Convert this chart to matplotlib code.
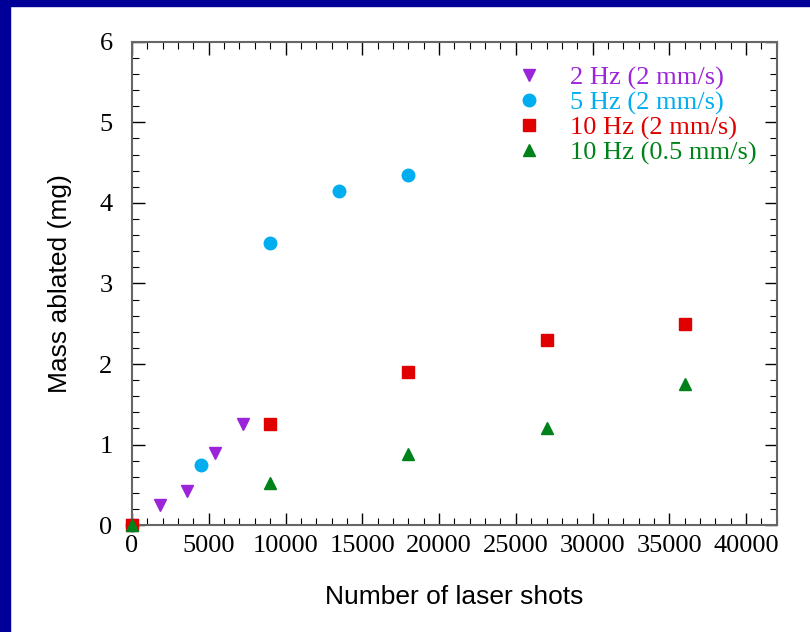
import numpy as np
import matplotlib
matplotlib.use("Agg")
import matplotlib.pyplot as plt
from matplotlib.patches import Rectangle
from matplotlib.ticker import MultipleLocator

# data
shots_2hz = [0, 1800, 3600, 5400, 7200]
mass_2hz = [0, 0.25, 0.42, 0.90, 1.26]

shots_5hz = [0, 4500, 9000, 13500, 18000]
mass_5hz = [0, 0.75, 3.50, 4.15, 4.35]

shots_10hz = [0, 9000, 18000, 27000, 36000]
mass_10hz = [0, 1.25, 1.90, 2.30, 2.50]

shots_10hz_slow = [0, 9000, 18000, 27000, 36000]
mass_10hz_slow = [0, 0.52, 0.88, 1.20, 1.75]

labels = ["2 Hz (2 mm/s)", "5 Hz (2 mm/s)", "10 Hz (2 mm/s)", "10 Hz (0.5 mm/s)"]
colors = ["#9B26D9", "#00AEEF", "#E00000", "#00821A"]
markers = ["v", "o", "s", "^"]

fig = plt.figure(figsize=(8.1, 6.32), dpi=100)
# dark blue slide border (top and left)
fig.patches.append(Rectangle((0, 1 - 6/632), 1, 6/632, transform=fig.transFigure,
                             color="#000099", zorder=0))
fig.patches.append(Rectangle((0, 0), 10/810, 1, transform=fig.transFigure,
                             color="#000099", zorder=0))

ax = fig.add_axes([0.163, 0.169, 0.796, 0.765])

series = [(shots_2hz, mass_2hz), (shots_5hz, mass_5hz),
          (shots_10hz, mass_10hz), (shots_10hz_slow, mass_10hz_slow)]
for (x, y), lab, c, m in zip(series, labels, colors, markers):
    ax.plot(x, y, linestyle="none", marker=m, color=c, markersize=9,
            label=lab, clip_on=False, zorder=3)

ax.set_xlim(0, 42000)
ax.set_ylim(0, 6)
ax.xaxis.set_major_locator(MultipleLocator(5000))
ax.xaxis.set_minor_locator(MultipleLocator(1000))
ax.yaxis.set_major_locator(MultipleLocator(1))
ax.yaxis.set_minor_locator(MultipleLocator(0.2))
ax.tick_params(which="both", direction="in", top=True, right=True,
               labelfontfamily="Liberation Serif")
ax.tick_params(which="major", length=9, width=1, labelsize=19, pad=7)
ax.tick_params(which="minor", length=5, width=0.8)
ax.tick_params(axis="y", pad=14)
for s in ax.spines.values():
    s.set_color("#666666")
    s.set_linewidth(1.5)

ax.set_xlabel("Number of laser shots", fontsize=19, family="Liberation Sans", labelpad=20)
ax.set_ylabel("Mass ablated (mg)", fontsize=19, family="Liberation Sans", labelpad=20)

leg = ax.legend(loc="upper left", bbox_to_anchor=(0.5845, 0.9496), frameon=False,
                prop={"family": "Liberation Serif", "size": 19},
                handletextpad=0.8, labelspacing=0.04, borderpad=0, borderaxespad=0,
                handlelength=1.5, markerscale=1.0)
for t, c in zip(leg.get_texts(), colors):
    t.set_color(c)

plt.savefig("out.png", dpi=100)
